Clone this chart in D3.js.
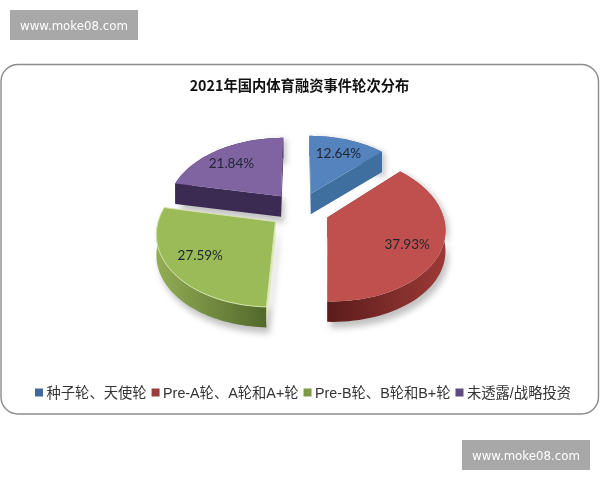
<!DOCTYPE html>
<html><head><meta charset="utf-8">
<script src="https://cdn.jsdelivr.net/npm/d3@7/dist/d3.min.js"></script>
<style>html,body{margin:0;padding:0;background:#fff}svg{display:block;filter:blur(.35px)}</style>
</head><body><svg id="c" width="600" height="480"></svg>
<script>
const chartTitle = "2021年国内体育融资事件轮次分布";
const categories = ["种子轮、天使轮","Pre-A轮、A轮和A+轮","Pre-B轮、B轮和B+轮","未透露/战略投资"];
const shares = [12.64,37.93,27.59,21.84];
const topColors = ["#5483bd","#c0504d","#9bbb59","#8064a2"];
const wallFrom = ["#3f6d9f","#9c3a37","#93ad55","#3f2e57"];
const wallTo = ["#3f6d9f","#5a1c1b","#52682b","#35264b"];
const cutColors = ["#3f6f9f","#6d2624","#dfeac0","#3b2b52"];
const legendColors = ["#3d6a99","#9a3d3a","#7f9a45","#5f4b80"];
const labelAngleShift = [0,5,2,-3];
const watermark = "www.moke08.com";

const svg = d3.select("#c"), defs = svg.append("defs");
const cx=299.5, cy=210, R=114.5, Ry=70, Dx=809, Dy=826, H=20.5, EX=30;
const slices = d3.pie().sort(null).value(d=>d).startAngle(0).endAngle(2*Math.PI)(shares);
const project=(a,r,e,mid,down=0)=>{
  const X=r*Math.sin(a)+e*Math.sin(mid), Y=r*Math.cos(a)+e*Math.cos(mid);
  return [cx+X*Dx/(Dx+Y), cy-Y*(Ry/R)*Dy/(Dy+Y)+down];
};
svg.append("rect").attr("x",1).attr("y",64.5).attr("width",597.5).attr("height",349.5).attr("rx",17)
  .attr("fill","#fff").attr("stroke","#8c8c8c").attr("stroke-width",1.4);
[[10,10],[462,440]].forEach(([x,y])=>{
  svg.append("rect").attr("x",x).attr("y",y).attr("width",128).attr("height",30).attr("fill","#a8a8a8");
  svg.append("text").attr("x",x+64).attr("y",y+20).attr("text-anchor","middle").attr("fill","#fff")
    .style("font","11.8px 'DejaVu Sans'").text(watermark);
});
svg.append("text").attr("x",299.5).attr("y",91).attr("text-anchor","middle").attr("fill","#111")
  .style("font","bold 14.3px 'Noto Sans CJK SC'").text(chartTitle);

const f=defs.append("filter").attr("id","sh").attr("x","-20%").attr("y","-20%").attr("width","140%").attr("height","140%");
f.append("feGaussianBlur").attr("stdDeviation",3);
const line=d3.line();
const arcPts=(s,down=0)=>{const m=(s.startAngle+s.endAngle)/2;
  return d3.range(0,61).map(i=>project(s.startAngle+(s.endAngle-s.startAngle)*i/60,R,EX,m,down));};
const apex=(s,down=0)=>{const m=(s.startAngle+s.endAngle)/2;return project(0,0,EX,m,down);};
const wedge=s=>line([apex(s),...arcPts(s)])+"Z";

slices.forEach(s=>{
  const a=arcPts(s), b=arcPts(s,H+4);
  svg.append("path").attr("d",line([apex(s),...a,...b.slice().reverse(),apex(s,H+4)])+"Z")
    .attr("fill","#9a9a9a").attr("opacity",.6).attr("filter","url(#sh)").attr("transform","translate(3,2)");
});
slices.forEach((s,i)=>{
  const a=arcPts(s), b=arcPts(s,H);
  const xs=a.map(p=>p[0]);
  const g=defs.append("linearGradient").attr("id","w"+i).attr("gradientUnits","userSpaceOnUse")
    .attr("x1",i==1?d3.max(xs):d3.min(xs)).attr("x2",i==1?d3.min(xs):d3.max(xs)).attr("y1",0).attr("y2",0);
  g.append("stop").attr("offset",0).attr("stop-color",wallFrom[i]);
  g.append("stop").attr("offset",1).attr("stop-color",wallTo[i]);
  svg.append("path").attr("d",line([...a,...b.slice().reverse()])+"Z").attr("fill",`url(#w${i})`);
  [[apex(s),a[0],b[0],apex(s,H)],[apex(s),a[60],b[60],apex(s,H)]].forEach(q=>
    svg.append("path").attr("d",line(q)+"Z").attr("fill",cutColors[i]));
  svg.append("path").attr("d",wedge(s)).attr("fill",topColors[i])
    .attr("stroke",i==2?"#d6e4ae":"none").attr("stroke-width",1);
  const m=(s.startAngle+s.endAngle)/2, p=project(m+labelAngleShift[i]*Math.PI/180,R*0.73,EX,m);
  svg.append("text").attr("x",p[0]).attr("y",p[1]+5).attr("text-anchor","middle").attr("fill","#1f2430")
    .style("font","13.5px Lato").text(shares[i].toFixed(2)+"%");
});
const lg=svg.append("g");
let x=35;
categories.forEach((c,i)=>{
  lg.append("rect").attr("x",x).attr("y",388.5).attr("width",8).attr("height",8).attr("fill",legendColors[i]);
  const t=lg.append("text").attr("x",x+11.5).attr("y",397.5).attr("fill","#333")
    .style("font","14.3px 'Liberation Sans','Noto Sans CJK SC'").text(c);
  x+=11.5+t.node().getComputedTextLength()+5;
});
</script></body></html>
